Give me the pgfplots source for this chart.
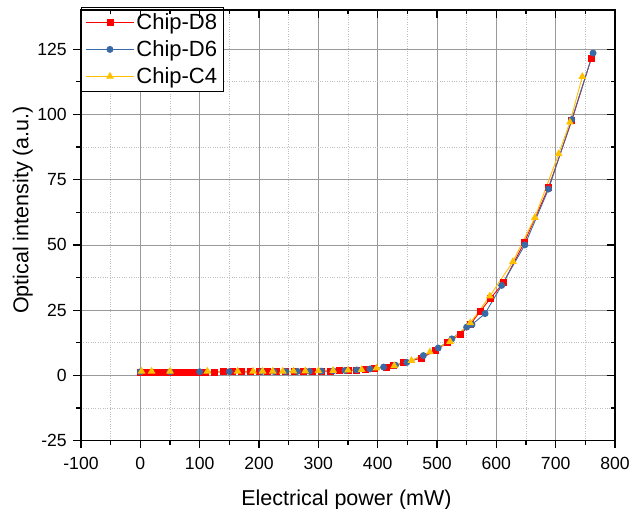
\documentclass[border=0pt]{standalone}
\usepackage{pgfplots}
\pgfplotsset{compat=1.18}
\usepackage{fontspec}
\setmainfont{Liberation Sans}
\definecolor{cred}{RGB}{255,0,0}
\definecolor{cblue}{RGB}{58,106,165}
\definecolor{cyel}{RGB}{255,192,0}
\pgfplotsset{
  myframe/.style={
    at={(81bp,68.3bp)}, anchor=south west,
    scale only axis, width=534bp, height=430.7bp,
    xmin=-100, xmax=800, ymin=-25, ymax=140,
    xtick={-100,0,...,800}, ytick={-25,0,...,125},
    minor x tick num=1, minor y tick num=1,
    axis line style={line width=1.4bp},
    major tick length=7.7bp, minor tick length=4.5bp,
    every tick/.style={black, line width=1.2bp},
  }
}
\begin{document}
\begin{tikzpicture}
\useasboundingbox (0,0) rectangle (630bp,509bp);
\begin{axis}[myframe,
  grid=both,
  major grid style={black!40, line width=0.8bp},
  minor grid style={black!25, dotted, line width=0.8bp},
  tick align=outside,
  xtick pos=left, ytick pos=left,
  tick label style={font=\fontsize{17.6bp}{20bp}\selectfont},
  /pgf/number format/assume math mode=true,
  xticklabel style={yshift=-5bp},
  yticklabel style={xshift=-3bp},
  xlabel={Electrical power (mW)},
  ylabel={Optical intensity (a.u.)},
  label style={font=\fontsize{21.5bp}{24bp}\selectfont, inner sep=0pt},
  xlabel style={at={(rel axis cs:0.4972,-0.1509)}, anchor=base},
  ylabel style={at={(rel axis cs:-0.0987,0.5357)}, anchor=base},
  legend style={at={(rel axis cs:0,1)}, anchor=north west, yshift=2.7bp,
    draw=black, line width=1bp, fill=white,
    font=\fontsize{22bp}{26bp}\selectfont, inner sep=4bp, row sep=5.5bp},
  legend cell align=left,
  legend image code/.code={\draw[mark repeat=2,mark phase=2] plot coordinates {(0bp,0bp) (24bp,0bp) (48bp,0bp)};},
]
\addplot[cred, line width=0.9bp, mark=square*, mark size=3bp, mark options={solid}] coordinates {
(0,1.3) (10,1.3) (20,1.3) (30,1.3) (40,1.3) (50,1.3) (60,1.3) (70,1.3) (80,1.3) (90,1.3)
(100,1.3) (110,1.3) (125,1.3) (140,1.35) (155,1.35) (170,1.35) (185,1.4) (200,1.4)
(215,1.4) (230,1.45) (245,1.45) (260,1.5) (275,1.5) (290,1.55) (305,1.6) (320,1.7)
(335,1.8) (350,1.9) (365,2.1) (380,2.3) (395,2.7) (415,3.2) (426,3.7) (443,4.8) (474,6.7)
(497,9.5) (517,12.5) (539,15.7) (556,19.5) (573,24.6) (590,29.5) (612,35.5) (647,50.9)
(688,72) (727,97.5) (760,121.4)
};
\addlegendentry{Chip-D8}
\addplot[cblue, line width=0.9bp, mark=*, mark size=3bp, mark options={solid}] coordinates {
(0,1.4) (50,1.4) (100,1.4) (150,1.45) (205,1.5) (225,1.5) (245,1.5) (265,1.55) (285,1.6)
(305,1.65) (325,1.75) (345,1.9) (365,2.1) (387,2.5) (410,3.2) (430,3.9) (449,5.0) (477,7.6)
(502,10.5) (525,14.0) (550,18.5) (559,19.5) (581,23.7) (609,34.5) (648,50.0) (688,71.4)
(727,98.0) (763,123.5)
};
\addlegendentry{Chip-D6}
\addplot[cyel, line width=0.9bp, mark=triangle*, mark size=3.6bp, mark options={solid}] coordinates {
(2,1.6) (19,1.6) (50,1.6) (113,1.6) (164,1.6) (190,1.6) (206,1.6) (223,1.6) (240,1.6)
(258,1.65) (278,1.7) (300,1.75) (325,1.85) (350,2.0) (373,2.2) (398,2.8) (428,3.7) (457,5.7)
(488,9.0) (522,13.0) (556,20.1) (589,30.4) (628,43.6) (665,60.5) (705,84.9) (724,97)
(745,114.5)
};
\addlegendentry{Chip-C4}
\end{axis}
\begin{axis}[myframe,
  tick align=inside,
  xtick pos=right, ytick pos=right,
  xticklabels={}, yticklabels={},
]
\end{axis}
\end{tikzpicture}
\end{document}
